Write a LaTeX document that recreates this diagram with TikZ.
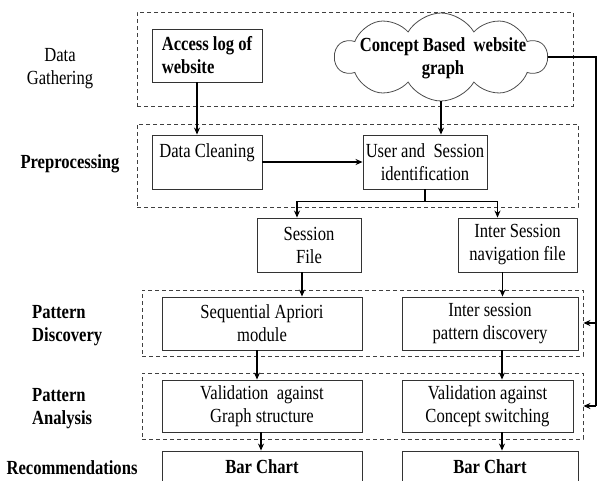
\documentclass[tikz,border=0pt]{standalone}
\usepackage{fontspec}
\setmainfont{Liberation Serif}[FakeStretch=0.83]
\usetikzlibrary{arrows.meta,positioning,shapes.symbols}
\newcommand\sz{\fontsize{20}{23}\selectfont}
\tikzset{
  stage/.style={draw=black!80,line width=0.9pt,align=center,minimum height=53pt,inner sep=2pt,font=\sz},
  group/.style={draw=black!75,dash pattern=on 4pt off 3pt,line width=0.8pt,inner sep=0pt},
  phase/.style={align=left,inner sep=0pt,font=\sz\bfseries},
  flow/.style={-{Stealth[length=7pt,width=6pt]},line width=1.3pt},
  link/.style={line width=1.3pt},
  idea/.style={cloud,cloud puffs=10,cloud puff arc=120,cloud ignores aspect,draw=black!70,line width=0.8pt,inner sep=0pt}
}
\begin{document}
\begin{tikzpicture}[x=1pt,y=-1pt]
\useasboundingbox (0,0) rectangle (597,480);
\node[group,minimum width=436pt,minimum height=94pt] (gather) at (355,59) {};
\node[group,minimum width=441pt,minimum height=83pt] (preproc) at (357.5,165.5) {};
\node[group,minimum width=441pt,minimum height=66pt] (discov) at (362.5,323) {};
\node[group,minimum width=441pt,minimum height=66pt] (analys) at (362.5,406) {};

\node[phase,font=\sz,align=center] (lgather) at (60,69) {Data\\Gathering};
\node[phase] (lpre) at (70,164) {Preprocessing};
\node[phase,anchor=west] (ldisc) at (32,326) {Pattern\\Discovery};
\node[phase,anchor=west] (lana) at (32,409) {Pattern\\Analysis};
\node[phase] (lrec) at (72,468) {Recommendations};

\node[stage,font=\sz\bfseries,minimum width=110pt,align=left] (access) at (207,55.5) {Access log of\\ website};
\node[idea,minimum width=212pt,minimum height=88pt] (concept) at (441,57) {};
\node[align=center,font=\sz\bfseries] (concepttext) at (443,58) {Concept Based\ \ website\\graph};
\node[stage,minimum width=110pt,minimum height=54pt] (clean) at (207,162) {Data Cleaning\\ \mbox{}};
\node[stage,minimum width=124pt,minimum height=54pt] (usersess) at (425,162) {User and\ \ Session\\identification};
\node[stage,minimum width=104pt,minimum height=54pt] (sessfile) at (309,245) {Session\\File};
\node[stage,minimum width=119pt,minimum height=54pt] (interfile) at (517.5,245) {Inter Session\\navigation file};
\node[stage,minimum width=200pt] (seqapr) at (262,323.5) {Sequential Apriori\\module};
\node[stage,minimum width=176pt] (interpat) at (490,323.5) {Inter session\\pattern discovery};
\node[stage,minimum width=200pt,minimum height=52pt] (valgraph) at (262,406) {Validation\ \ against\\Graph structure};
\node[stage,minimum width=171pt,minimum height=52pt] (valconc) at (487.5,406) {Validation against\\Concept switching};
\node[stage,font=\sz\bfseries,minimum width=200pt,minimum height=32pt] (barl) at (262,467) {Bar Chart};
\node[stage,font=\sz\bfseries,minimum width=176pt,minimum height=32pt] (barr) at (490,467) {Bar Chart};

\draw[flow] ([xshift=-10pt]access.south) -- ([xshift=-10pt]clean.north);
\draw[flow] (concept.south) -- (concept.south |- usersess.north);
\draw[flow] (clean.east) -- (usersess.west);
\coordinate (split) at ([yshift=-12pt]usersess.south);
\draw[link] (usersess.south) -- (split);
\draw[flow] (split) -| ([xshift=-12pt]sessfile.north);
\draw[flow] (split) -| ([xshift=-20pt]interfile.north);
\draw[flow] ([xshift=-7pt]sessfile.south) -- ([xshift=-7pt]sessfile.south |- seqapr.north);
\draw[flow] ([xshift=-15pt]interfile.south) -- ([xshift=-15pt]interfile.south |- interpat.north);
\draw[flow] ([xshift=-5pt]seqapr.south) -- ([xshift=-5pt]seqapr.south |- valgraph.north);
\draw[flow] ([xshift=12pt]interpat.south) -- ([xshift=12pt]interpat.south |- valconc.north);
\draw[flow] ([xshift=-1pt]valgraph.south) -- ([xshift=-1pt]valgraph.south |- barl.north);
\draw[flow] ([xshift=14.5pt]valconc.south) -- ([xshift=14.5pt]valconc.south |- barr.north);
\coordinate (rail) at (596,0);
\draw[link] (concept.east) -- (concept.east -| rail) -- (rail |- analys.east);
\draw[flow] (rail |- discov.east) -- (discov.east);
\draw[flow] (rail |- analys.east) -- (analys.east);
\end{tikzpicture}
\end{document}
